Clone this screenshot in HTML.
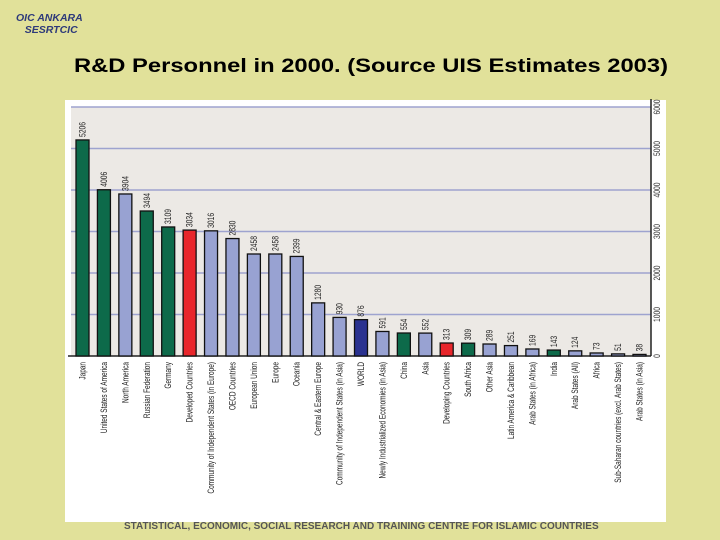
<!DOCTYPE html>
<html><head><meta charset="utf-8">
<style>
body{margin:0;width:720px;height:540px;background:#e1e19a;position:relative;overflow:hidden;font-family:"Liberation Sans",sans-serif}
#logo{position:absolute;left:16px;top:12px;color:#2e3a7a;font-weight:bold;font-style:italic;font-size:10.5px;line-height:12px}
#title{position:absolute;left:0;width:742px;top:56px;text-align:center;font-size:19px;font-weight:bold;color:#000;transform:scaleX(1.25);transform-origin:371px 0}
#panel{position:absolute;left:65px;top:100px;width:601px;height:422px;background:#fff}
#footer{position:absolute;left:124px;top:521px;font-size:10px;font-weight:bold;color:#555}
svg{position:absolute;left:0;top:0}
</style></head><body>
<div id="logo">OIC ANKARA<br>&nbsp;&nbsp;&nbsp;SESRTCIC</div>
<div id="title">R&amp;D Personnel in 2000. (Source UIS Estimates 2003)</div>
<div id="panel"></div>
<div id="footer">STATISTICAL, ECONOMIC, SOCIAL RESEARCH AND TRAINING CENTRE FOR ISLAMIC COUNTRIES</div>
<svg id="chart" width="720" height="540"></svg>
<script>
const categories=["Japan","United States of America","North America","Russian Federation","Germany","Developed Countries","Community of Independent States (in Europe)","OECD Countries","European Union","Europe","Oceania","Central & Eastern Europe","Community of Independent States (in Asia)","WORLD","Newly Industrialized Economies (in Asia)","China","Asia","Developing Countries","South Africa","Other Asia","Latin America & Caribbean","Arab States (in Africa)","India","Arab States (All)","Africa","Sub-Saharan countries (excl. Arab States)","Arab States (in Asia)"];
const values=[5206,4006,3904,3494,3109,3034,3016,2830,2458,2458,2399,1280,930,876,591,554,552,313,309,289,251,169,143,124,73,51,38];
const groups=["g","g","b","g","g","r","b","b","b","b","b","b","b","w","b","g","b","r","g","b","b","b","g","b","b","b","b"];
const yTicks=[0,1000,2000,3000,4000,5000,6000];
const colors={g:"#0d6a4a",b:"#98a2d2",r:"#e8262b",w:"#2a3290"};
const NS="http://www.w3.org/2000/svg";
const svg=document.getElementById("chart");
const L=71,R=651,T=107,B=356,yMax=6000;
const y=v=>B-(v/yMax)*(B-T);
const step=(639.5-82.5)/(categories.length-1);
const x=i=>82.5+i*step;
function mk(tag,attrs){const e=document.createElementNS(NS,tag);for(const k in attrs)e.setAttribute(k,attrs[k]);svg.appendChild(e);return e;}
let bg=mk("rect",{x:L,y:T,width:R-L,height:B-T,fill:"#ece9e5"});


yTicks.forEach(t=>{
 if(t>0){let g=mk("line",{x1:L,x2:R,y1:y(t),y2:y(t),stroke:"#9ea3cf","stroke-width":1.5});
 
 }
 let tl=mk("text",{x:0,y:0,transform:`translate(${R+9},${y(t)}) rotate(-90) scale(0.75,1)`,"font-size":9,"text-anchor":"middle",fill:"#333"});
 tl.textContent=t;
 
 
});
let ax=mk("line",{x1:R,x2:R,y1:T-8,y2:B,stroke:"#222","stroke-width":1.5});


let xa=mk("line",{x1:L-3,x2:R,y1:B,y2:B,stroke:"#222","stroke-width":1.5});


categories.forEach((c,i)=>{
 const cx=x(i),w=13,v=values[i];
 let b=mk("rect",{x:cx-w/2,y:y(v),width:w,height:B-y(v),fill:colors[groups[i]],stroke:"#111","stroke-width":1.3});
 
 
 let vl=mk("text",{x:0,y:0,transform:`translate(${cx+3},${y(v)-3}) rotate(-90) scale(0.75,1)`,"font-size":9,fill:"#222"});
 vl.textContent=v;
 
 
 let cl=mk("text",{x:0,y:0,transform:`translate(${cx+3},${B+6}) rotate(-90) scale(0.72,1)`,"font-size":9,"text-anchor":"end",fill:"#222"});
 cl.textContent=c;
 
 
});
</script>
</body></html>
